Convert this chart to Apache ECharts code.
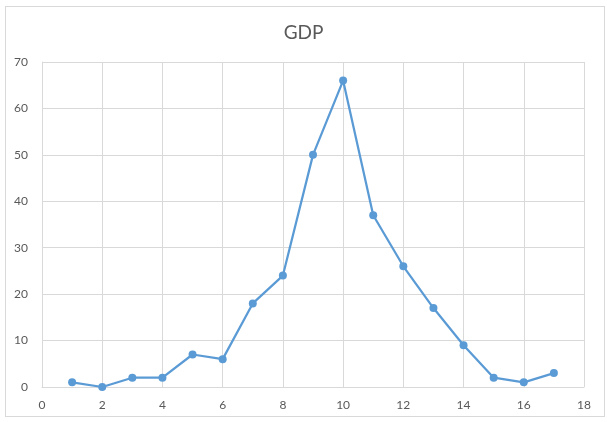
<!DOCTYPE html>
<html>
<head>
<meta charset="utf-8">
<script src="https://cdn.jsdelivr.net/npm/echarts@6/dist/echarts.min.js"></script>
<style>
  html, body { margin: 0; padding: 0; background: #ffffff; }
  #frame { position: absolute; left: 5px; top: 6px; width: 600px; height: 411px; border: 1px solid #d9d9d9; box-sizing: border-box; }
  #chart { width: 607px; height: 422px; }
</style>
</head>
<body>
<div id="frame"></div>
<div id="chart"></div>
<script>
// Observation positions and GDP values
const xValues = [1, 2, 3, 4, 5, 6, 7, 8, 9, 10, 11, 12, 13, 14, 15, 16, 17];
const gdpValues = [1, 0, 2, 2, 7, 6, 18, 24, 50, 66, 37, 26, 17, 9, 2, 1, 3];
const titleText = 'GDP';

const points = xValues.map((x, i) => [x, gdpValues[i]]);

const chart = echarts.init(document.getElementById('chart'), null, { renderer: 'canvas' });
const labelFont = { color: '#595959', fontSize: 12, fontFamily: 'Lato, "Open Sans", sans-serif' };
const gridLine = { show: true, lineStyle: { color: '#d9d9d9', width: 1 } };

chart.setOption({
  backgroundColor: 'transparent',
  animation: false,
  title: {
    text: titleText,
    left: 'center',
    top: 18,
    textStyle: { color: '#595959', fontSize: 19, fontWeight: 'normal', fontFamily: 'Lato, "Open Sans", sans-serif' }
  },
  grid: { left: 42, right: 23, top: 62, bottom: 35 },
  xAxis: {
    type: 'value',
    min: 0, max: 18, interval: 2,
    axisLine: { show: true, lineStyle: { color: '#d9d9d9' } },
    axisTick: { show: false },
    splitLine: gridLine,
    axisLabel: Object.assign({ margin: 12 }, labelFont)
  },
  yAxis: {
    type: 'value',
    min: 0, max: 70, interval: 10,
    axisLine: { show: true, lineStyle: { color: '#d9d9d9' } },
    axisTick: { show: false },
    splitLine: gridLine,
    axisLabel: Object.assign({ margin: 14 }, labelFont)
  },
  series: [{
    type: 'line',
    data: points,
    symbol: 'circle',
    symbolSize: 8,
    lineStyle: { color: '#5b9bd5', width: 2.25 },
    itemStyle: { color: '#5b9bd5' }
  }]
});
</script>
</body>
</html>
